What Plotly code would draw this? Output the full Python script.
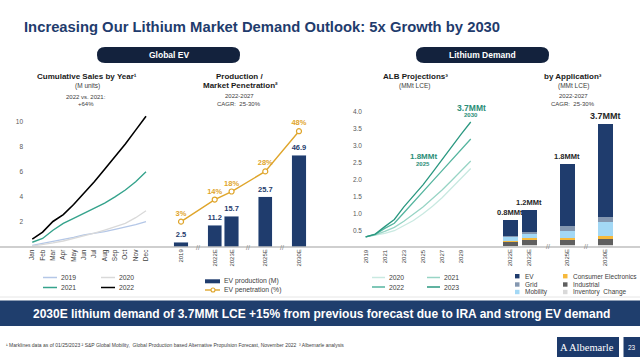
import plotly.graph_objects as go

W, H = 640, 357
def X(px): return px / W
def Y(py): return 1 - py / H

# ---------------- data ----------------
months = ["Jan", "Feb", "Mar", "Apr", "May", "Jun", "Jul", "Aug", "Sep", "Oct", "Nov", "Dec"]
sales_2019 = [0.15, 0.3, 0.45, 0.6, 0.78, 0.98, 1.1, 1.24, 1.42, 1.6, 1.8, 2.03]
sales_2020 = [0.1, 0.2, 0.35, 0.5, 0.7, 0.92, 1.12, 1.37, 1.62, 1.9, 2.35, 2.9]
sales_2021 = [0.4, 0.7, 1.35, 1.9, 2.3, 2.7, 3.1, 3.5, 4.0, 4.55, 5.2, 6.0]
sales_2022 = [0.65, 1.2, 2.05, 2.6, 3.4, 4.3, 5.2, 6.2, 7.2, 8.2, 9.3, 10.4]

prod_years = ["2019", "2022E", "2023E", "2025E", "2030E"]
ev_production = [2.5, 11.2, 15.7, 25.7, 46.9]
ev_penetration = [3, 14, 18, 28, 48]

alb_years = [2019, 2020, 2021, 2022, 2023, 2024, 2025, 2026, 2027, 2028, 2029, 2030]
alb_2020 = [0.32, 0.36, 0.42, 0.5, 0.64, 0.8, 1.0, 1.22, 1.47, 1.75, 2.05, 2.33]
alb_2021 = [0.32, 0.38, 0.48, 0.6, 0.78, 0.98, 1.2, 1.45, 1.7, 1.98, 2.27, 2.55]
alb_2022 = [0.32, 0.39, 0.57, 0.72, 1.03, 1.33, 1.65, 1.96, 2.27, 2.58, 2.89, 3.2]
alb_2023 = [0.32, 0.40, 0.62, 0.83, 1.2, 1.52, 1.85, 2.22, 2.6, 2.97, 3.34, 3.7]

app_years = ["2022E", "2023E", "2025E", "2030E"]
app_ev = [0.47, 0.68, 1.84, 2.76]
app_grid = [0.03, 0.05, 0.15, 0.15]
app_mobility = [0.12, 0.13, 0.22, 0.41]
app_consumer = [0.04, 0.06, 0.06, 0.10]
app_industrial = [0.12, 0.13, 0.14, 0.17]
app_inventory = [0.02, 0.06, 0.06, 0.06]
app_totals = ["0.8MMt", "1.2MMt", "1.8MMt", "3.7MMt"]

# ---------------- layout constants ----------------
PROD_SLOTS = [0, 2, 3, 5, 7]
PROD_BREAKS = [1, 4, 6]
APP_SLOTS = [0, 1, 3, 5]
APP_BREAKS = [2, 4]

NAVY = "#1f3c6d"
DARK = "#13223d"
GOLD = "#dfa52b"
FONT = "Liberation Sans, Arial, sans-serif"
TICK = dict(size=6.5, color="#595959", family=FONT)

fig = go.Figure()

# Panel 1 – cumulative sales
for name, vals, col, wd in [("2019", sales_2019, "#b4c7e7", 1.3), ("2020", sales_2020, "#d9d9d9", 1.3),
                            ("2021", sales_2021, "#35a38c", 1.4), ("2022", sales_2022, "#000000", 1.6)]:
    fig.add_trace(go.Scatter(x=list(range(len(months))), y=vals, mode="lines", name=name,
                             line=dict(color=col, width=wd), xaxis="x", yaxis="y"))

# Panel 2 – production / penetration
fig.add_trace(go.Bar(x=PROD_SLOTS, y=ev_production, width=0.85, marker_color=NAVY,
                     text=[f"{v}" for v in ev_production], textposition="outside",
                     textfont=dict(size=7.5, color=NAVY, family=FONT), constraintext="none",
                     texttemplate="<b>%{text}</b>", cliponaxis=False, xaxis="x2", yaxis="y2"))
fig.add_trace(go.Scatter(x=PROD_SLOTS, y=ev_penetration, mode="lines+markers+text",
                         line=dict(color=GOLD, width=1.4),
                         marker=dict(symbol="circle", size=5, color="white", line=dict(color=GOLD, width=1.2)),
                         text=[f"<b>{v}%</b>" for v in ev_penetration], textposition="top center",
                         textfont=dict(size=7.5, color=GOLD, family=FONT), cliponaxis=False,
                         xaxis="x2", yaxis="y3"))

# Panel 3 – ALB projections
for name, vals, col in [("2020", alb_2020, "#c9e9e1"), ("2021", alb_2021, "#98d4c5"),
                        ("2022", alb_2022, "#55b59f"), ("2023", alb_2023, "#2b9881")]:
    fig.add_trace(go.Scatter(x=alb_years, y=vals, mode="lines", name=name,
                             line=dict(color=col, width=1.3), xaxis="x3", yaxis="y4"))

# Panel 4 – by application (stacked)
for name, vals, col in [("Inventory Change", app_inventory, "#d9d9d9"), ("Industrial", app_industrial, "#5f5f5f"),
                        ("Consumer Electronics", app_consumer, "#f6b93b"), ("Mobility", app_mobility, "#a3d8f5"),
                        ("Grid", app_grid, "#8497b0"), ("EV", app_ev, NAVY)]:
    fig.add_trace(go.Bar(x=APP_SLOTS, y=vals, width=0.79, name=name, marker_color=col,
                         marker_line_width=0, xaxis="x4", yaxis="y5"))

shapes = []
ann = []

def text(px, py, s, size=7, color="#404040", bold=False, xanchor="center", family=FONT):
    ann.append(dict(x=X(px), y=Y(py), xref="paper", yref="paper", text=(f"<b>{s}</b>" if bold else s),
                    showarrow=False, xanchor=xanchor, yanchor="middle",
                    font=dict(size=size, color=color, family=family)))

def hline(x0, x1, py, color, width=1.5):
    shapes.append(dict(type="line", xref="paper", yref="paper", x0=X(x0), x1=X(x1), y0=Y(py), y1=Y(py),
                       line=dict(color=color, width=width)))

def rect(x0, x1, y0, y1, color):
    shapes.append(dict(type="rect", xref="paper", yref="paper", x0=X(x0), x1=X(x1), y0=Y(y1), y1=Y(y0),
                       fillcolor=color, line=dict(width=0), layer="below"))

def pill(x0, x1, y0, y1, color):
    r = (y1 - y0) / 2
    ym = (y0 + y1) / 2
    p = (f"M {X(x0 + r)},{Y(y0)} L {X(x1 - r)},{Y(y0)} Q {X(x1)},{Y(y0)} {X(x1)},{Y(ym)} "
         f"Q {X(x1)},{Y(y1)} {X(x1 - r)},{Y(y1)} L {X(x0 + r)},{Y(y1)} Q {X(x0)},{Y(y1)} {X(x0)},{Y(ym)} "
         f"Q {X(x0)},{Y(y0)} {X(x0 + r)},{Y(y0)} Z")
    shapes.append(dict(type="path", xref="paper", yref="paper", path=p, fillcolor=color, line=dict(width=0)))

# Title and pills
text(22, 27, "Increasing Our Lithium Market Demand Outlook: 5x Growth by 2030", size=14.8, color="#1f3c6d",
     bold=True, xanchor="left")
pill(97, 240, 47, 63, DARK)
pill(416, 549, 47, 63, DARK)
text(168.5, 55, "Global EV", size=8.5, color="white", bold=True)
text(482.5, 55, "Lithium Demand", size=8.5, color="white", bold=True)

# Panel titles
T = "#1a1a1a"
S = "#404040"
text(87, 76, "Cumulative Sales by Year¹", 8, T, True)
text(87, 85.5, "(M units)", 6.5, S)
text(86, 97, "2022 vs. 2021:", 6, S)
text(86, 104, "+64%", 6, S)
text(239, 76, "Production /", 8, T, True)
text(240, 85.5, "Market Penetration²", 8, T, True)
text(239, 96, "2022-2027", 6, S)
text(239, 104, "CAGR:  25-30%", 6, S)
text(415, 76, "ALB Projections³", 8, T, True)
text(414, 85.5, "(MMt LCE)", 6.5, S)
text(573, 76, "by Application³", 8, T, True)
text(573, 85.5, "(MMt LCE)", 6.5, S)
text(573, 96, "2022-2027", 6, S)
text(573, 104, "CAGR:  25-30%", 6, S)

# Panel 3 callouts
TEAL = "#2b8e78"
text(471, 107.5, "3.7MMt", 8.5, TEAL, True)
text(471, 115.5, "2030", 6, TEAL, True)
text(423, 156.5, "1.8MMt", 8, TEAL, True)
text(423, 164.5, "2025", 6, TEAL, True)

# Baseline and separators
hline(0, 640, 247, "#bfbfbf", 1.6)
hline(0, 640, 297, "#e6e6e6", 1)

# Break marks
for s in PROD_BREAKS:
    ann.append(dict(x=s, y=0, xref="x2", yref="y2", text="//", showarrow=False, yanchor="middle",
                    font=dict(size=7, color="#7f7f7f", family=FONT)))
for s in APP_BREAKS:
    ann.append(dict(x=s, y=0, xref="x4", yref="y5", text="//", showarrow=False, yanchor="middle",
                    font=dict(size=7, color="#7f7f7f", family=FONT)))

# Totals above stacked bars
stack_tot = [sum(v) for v in zip(app_ev, app_grid, app_mobility, app_consumer, app_industrial, app_inventory)]
for i, (s, t, lab) in enumerate(zip(APP_SLOTS, stack_tot, app_totals)):
    ann.append(dict(x=s, y=t, xref="x4", yref="y5", text=f"<b>{lab}</b>", showarrow=False, yanchor="bottom",
                    yshift=1, font=dict(size=9 if i == 3 else 7.5, color="#262626", family=FONT)))

# Legends (manual)
LG = 6.8
def leg_line(x0, x1, py, col, label, w=1.5):
    hline(x0, x1, py, col, w)
    text(x1 + 1.5, py, label, LG, S, xanchor="left")

leg_line(43, 57, 277.5, "#b4c7e7", "2019")
leg_line(101, 115, 277.5, "#d9d9d9", "2020")
leg_line(43, 57, 287.5, "#35a38c", "2021")
leg_line(101, 115, 287.5, "#000000", "2022")

rect(205, 220, 279.3, 283.3, NAVY)
text(221.5, 281.3, "EV production (M)", LG, S, xanchor="left")
hline(205, 220, 290, GOLD, 1.4)
shapes.append(dict(type="circle", xref="paper", yref="paper", x0=X(211), x1=X(215), y0=Y(292), y1=Y(288),
                   fillcolor="white", line=dict(color=GOLD, width=1.1)))
text(221.5, 290, "EV penetration (%)", LG, S, xanchor="left")

leg_line(372, 385, 277.5, "#c9e9e1", "2020")
leg_line(427, 440, 277.5, "#98d4c5", "2021")
leg_line(372, 385, 287, "#55b59f", "2022")
leg_line(427, 440, 287, "#2b9881", "2023")

for (px, py, col, lab) in [(515, 276.2, NAVY, "EV"), (515, 284.5, "#8497b0", "Grid"), (515, 292, "#a3d8f5", "Mobility"),
                           (563, 276.2, "#f6b93b", "Consumer Electronics"), (563, 284.5, "#5f5f5f", "Industrial"),
                           (563, 292, "#d9d9d9", "Inventory  Change")]:
    rect(px, px + 4.5, py - 2.2, py + 2.2, col)
    text(px + 7.5, py, lab, 6.5, S, xanchor="left")

# Bottom banner
rect(0, 640, 300.5, 326, "#1f3e6d")
text(321, 313.5, "2030E lithium demand of 3.7MMt LCE +15% from previous forecast due to IRA and strong EV demand",
     12, "white", True)

# Footnote
text(4, 344.5, "¹ Marklines data as of 01/25/2023 ² S&P Global Mobility,  Global Production based "
     "Alternative Propulsion Forecast, November 2022  ³ Albemarle analysis", 5, "#404040", xanchor="left")

# Logo
rect(557, 619, 337, 357, "#1c3a6b")
rect(623.5, 640, 337, 357, "#1c3a6b")
text(591, 347, "Albemarle", 10.5, "white", family="Liberation Serif, serif")
text(564, 347, "A", 10.5, "white", family="Liberation Serif, serif")
text(631.8, 347, "23", 6.5, "white")

def dx(a, b): return [X(a), X(b)]
def dy(top, bot): return [Y(bot), Y(top)]

common = dict(showgrid=False, zeroline=False, showline=False, ticks="")
fig.update_layout(
    width=W, height=H, margin=dict(l=0, r=0, t=0, b=0), showlegend=False,
    paper_bgcolor="white", plot_bgcolor="rgba(0,0,0,0)", barmode="stack",
    font=dict(family=FONT),
    xaxis=dict(domain=dx(24, 158), range=[-0.80, 12.16], tickvals=list(range(12)), ticktext=months,
               tickangle=-90, tickfont=dict(size=6.5, color="#404040", family=FONT), anchor="y", **common),
    yaxis=dict(domain=dy(110, 247.3), range=[0, (247.3 - 110) / 12.6], tickvals=[2, 4, 6, 8, 10],
               tickfont=TICK, anchor="x", **common),
    xaxis2=dict(domain=dx(163, 318), range=[-1.07, 8.13], tickvals=PROD_SLOTS, ticktext=prod_years,
                tickangle=-90, tickfont=dict(size=6, color="#404040", family=FONT), anchor="y2", **common),
    yaxis2=dict(domain=dy(110, 247), range=[0, (247 - 110) / 1.96], showticklabels=False, anchor="x2", **common),
    yaxis3=dict(range=[-(247 - 227.7) / 2.01, (227.7 - 110) / 2.01], overlaying="y2", anchor="x2",
                showticklabels=False, **common),
    xaxis3=dict(domain=dx(363, 480), range=[2018.72, 2030.97], tickvals=[2019, 2021, 2023, 2025, 2027, 2029],
                tickangle=-90, tickfont=dict(size=6, color="#404040", family=FONT), anchor="y4", **common),
    yaxis4=dict(domain=dy(105, 247.7), range=[0, 4.2], tickvals=[0.5, 1, 1.5, 2, 2.5, 3, 3.5, 4],
                tickformat=".1f", tickfont=TICK, anchor="x3", **common),
    xaxis4=dict(domain=dx(485, 630), range=[-1.34, 6.29], tickvals=APP_SLOTS, ticktext=app_years,
                tickangle=-90, tickfont=dict(size=6, color="#404040", family=FONT), anchor="y5", **common),
    yaxis5=dict(domain=dy(105, 246.7), range=[0, (246.7 - 105) / 33.5], showticklabels=False, anchor="x4", **common),
    shapes=shapes, annotations=ann,
)

fig.write_html("out.html", config={"displayModeBar": False, "staticPlot": True},
               post_script="document.body.style.margin='0';document.body.style.overflow='hidden';")
